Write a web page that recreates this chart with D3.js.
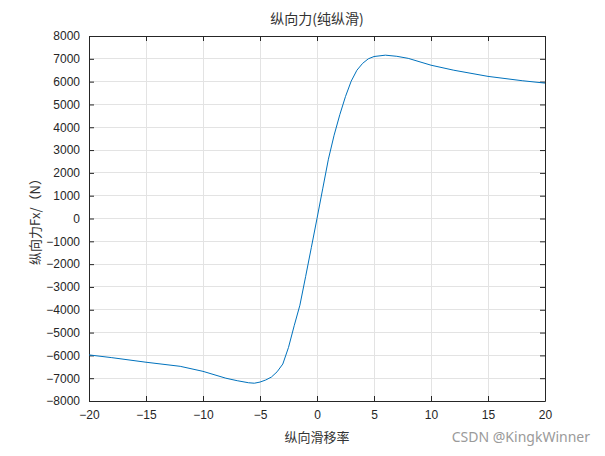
<!DOCTYPE html>
<html><head><meta charset="utf-8">
<script src="https://cdn.jsdelivr.net/npm/d3@7"></script>
<style>body{margin:0;background:#fff}</style>
</head><body>
<svg id="c" width="605" height="456"></svg>
<script>
const slip = [-20,-18,-15,-12,-10,-8,-7,-6,-5.5,-5,-4.5,-4,-3.5,-3,-2.5,-2,-1.5,-1,-0.5,0,0.5,1,1.5,2,2.5,3,3.5,4,4.5,5,6,7,8,10,12,15,18,20];
const force = [-5980,-6100,-6300,-6480,-6700,-7000,-7110,-7200,-7220,-7170,-7080,-6950,-6720,-6380,-5650,-4700,-3800,-2550,-1280,0,1300,2600,3650,4550,5350,6020,6500,6800,7000,7100,7160,7110,7020,6720,6500,6230,6040,5935];
const xTicks = [-20,-15,-10,-5,0,5,10,15,20];
const yTicks = d3.range(-8000, 8001, 1000);
const title = "纵向力(纯纵滑)";
const xLabel = "纵向滑移率";
const yLabel = "纵向力Fx/（N）";
const watermark = "CSDN @KingkWinner";

const svg = d3.select("#c");
const L = 89, R = 545, T = 36, B = 401;
const x = d3.scaleLinear().domain([-20, 20]).range([L, R]);
const y = d3.scaleLinear().domain([-8000, 8000]).range([B, T]);
const axisCol = "#262626", gridCol = "#e3e3e3";
const tickFont = "Liberation Sans, Arial, sans-serif";
const cjk = "Noto Sans CJK SC, sans-serif";

svg.append("g").selectAll("line").data(xTicks).join("line")
  .attr("x1", d => x(d)).attr("x2", d => x(d)).attr("y1", T).attr("y2", B)
  .attr("stroke", gridCol).attr("stroke-width", 1).attr("shape-rendering","crispEdges");
svg.append("g").selectAll("line").data(yTicks).join("line")
  .attr("y1", d => y(d)).attr("y2", d => y(d)).attr("x1", L).attr("x2", R)
  .attr("stroke", gridCol).attr("stroke-width", 1).attr("shape-rendering","crispEdges");

const xb = svg.append("g").attr("transform", `translate(0,${B})`)
  .call(d3.axisBottom(x).tickValues(xTicks).tickSizeInner(-5).tickSizeOuter(0).tickPadding(9).tickFormat(d3.format("d")));
const xt = svg.append("g").attr("transform", `translate(0,${T})`)
  .call(d3.axisTop(x).tickValues(xTicks).tickSizeInner(-5).tickSizeOuter(0).tickFormat(""));
const yl = svg.append("g").attr("transform", `translate(${L},0)`)
  .call(d3.axisLeft(y).tickValues(yTicks).tickSizeInner(-5).tickSizeOuter(0).tickPadding(9).tickFormat(d3.format("d")));
const yr = svg.append("g").attr("transform", `translate(${R},0)`)
  .call(d3.axisRight(y).tickValues(yTicks).tickSizeInner(-5).tickSizeOuter(0).tickFormat(""));
[xb, xt, yl, yr].forEach(g => {
  g.selectAll("path").attr("stroke", axisCol).attr("stroke-width", 1);
  g.selectAll("line").attr("stroke", axisCol);
  g.selectAll("text").attr("fill", axisCol).attr("font-size", 12).attr("font-family", tickFont);
});
xb.selectAll("text").attr("dy", "0.71em");

svg.append("path").datum(slip.map((s, i) => [s, force[i]]))
  .attr("fill", "none").attr("stroke", "#0072BD").attr("stroke-width", 1)
  .attr("d", d3.line().x(d => x(d[0])).y(d => y(d[1])));

svg.append("text").attr("x", (L + R) / 2).attr("y", 24).attr("text-anchor", "middle")
  .attr("font-family", cjk).attr("font-size", 14).attr("fill", "#333").text(title);
svg.append("text").attr("x", (L + R) / 2).attr("y", 442).attr("text-anchor", "middle")
  .attr("font-family", cjk).attr("font-size", 13).attr("fill", "#333").text(xLabel);
svg.append("text").attr("transform", `translate(40,${(T + B) / 2}) rotate(-90)`).attr("text-anchor", "middle")
  .attr("font-family", cjk).attr("font-size", 13).attr("fill", "#333").text(yLabel);
svg.append("text").attr("x", 590).attr("y", 442).attr("text-anchor", "end")
  .attr("font-family", "Noto Sans, sans-serif").attr("font-size", 14).attr("fill", "#9a9a9a").text(watermark);
</script>
</body></html>
